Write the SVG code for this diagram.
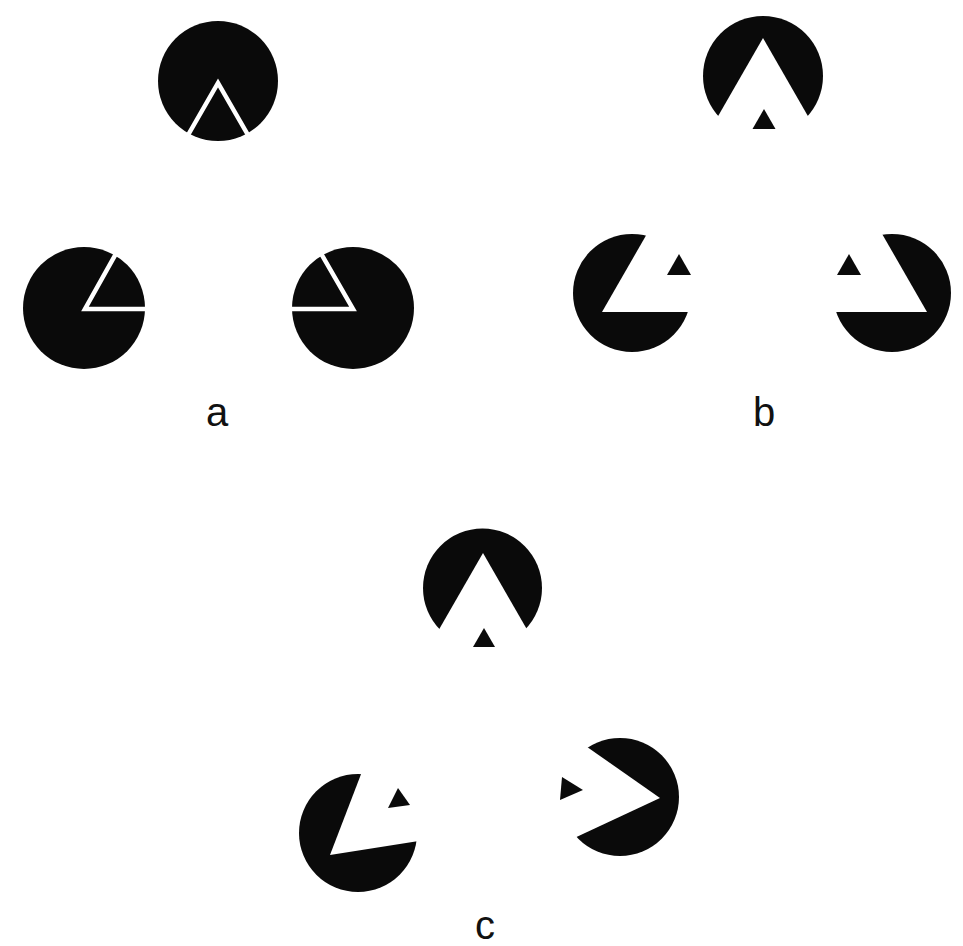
<svg xmlns="http://www.w3.org/2000/svg" width="963" height="946" viewBox="0 0 963 946">
<style>
.disc{fill:#0a0a0a}
.cut{fill:#ffffff}
.line{fill:none;stroke:#ffffff;stroke-width:4.5;stroke-linejoin:miter;stroke-miterlimit:10}
.tri{fill:#0a0a0a}
.lbl{font-family:"Liberation Sans",Arial,sans-serif;font-size:40px;fill:#111111;text-anchor:middle}
</style>
<rect width="963" height="946" fill="#ffffff"/>
<g id="panel-a">
  <g id="a-top"><circle class="disc" cx="218" cy="81" r="60"/><polyline class="line" points="180,149 218,83 256,149"/></g>
  <g id="a-left"><circle class="disc" cx="84" cy="308" r="61"/><polyline class="line" points="118,250 85,309 150,309"/></g>
  <g id="a-right"><circle class="disc" cx="353" cy="308" r="61"/><polyline class="line" points="319,250 353,309 288,309"/></g>
  <text id="label-a" class="lbl" x="217" y="426">a</text>
</g>
<g id="panel-b">
  <g id="b-top"><circle class="disc" cx="763" cy="76" r="60"/><polygon class="cut" points="763,38 698,151 828,151"/><polygon class="tri" points="764,109 752.5,129 775.5,129"/></g>
  <g id="b-left"><circle class="disc" cx="632" cy="293" r="59"/><polygon class="cut" points="602,312 732,312 667,199"/><polygon class="tri" points="679,254 667,275 691,275"/></g>
  <g id="b-right"><circle class="disc" cx="892" cy="293" r="59"/><polygon class="cut" points="927,312 797,312 862,199"/><polygon class="tri" points="849,254 837,275 861,275"/></g>
  <text id="label-b" class="lbl" x="764" y="426">b</text>
</g>
<g id="panel-c">
  <g id="c-top"><circle class="disc" cx="482.5" cy="588" r="59.5"/><polygon class="cut" points="483,553 418,666 548,666"/><polygon class="tri" points="484,628 473,647 495,647"/></g>
  <g id="c-left"><circle class="disc" cx="358" cy="833" r="59"/><polygon class="cut" points="330,855 458.4,834.7 376.6,733.6"/><polygon class="tri" points="398,788 388,808 410,805"/></g>
  <g id="c-right"><circle class="disc" cx="620" cy="797" r="59"/><polygon class="cut" points="660,798 553.5,723.4 542.2,853"/><polygon class="tri" points="562,777 583,790 560,800"/></g>
  <text id="label-c" class="lbl" x="485" y="939">c</text>
</g>
</svg>
